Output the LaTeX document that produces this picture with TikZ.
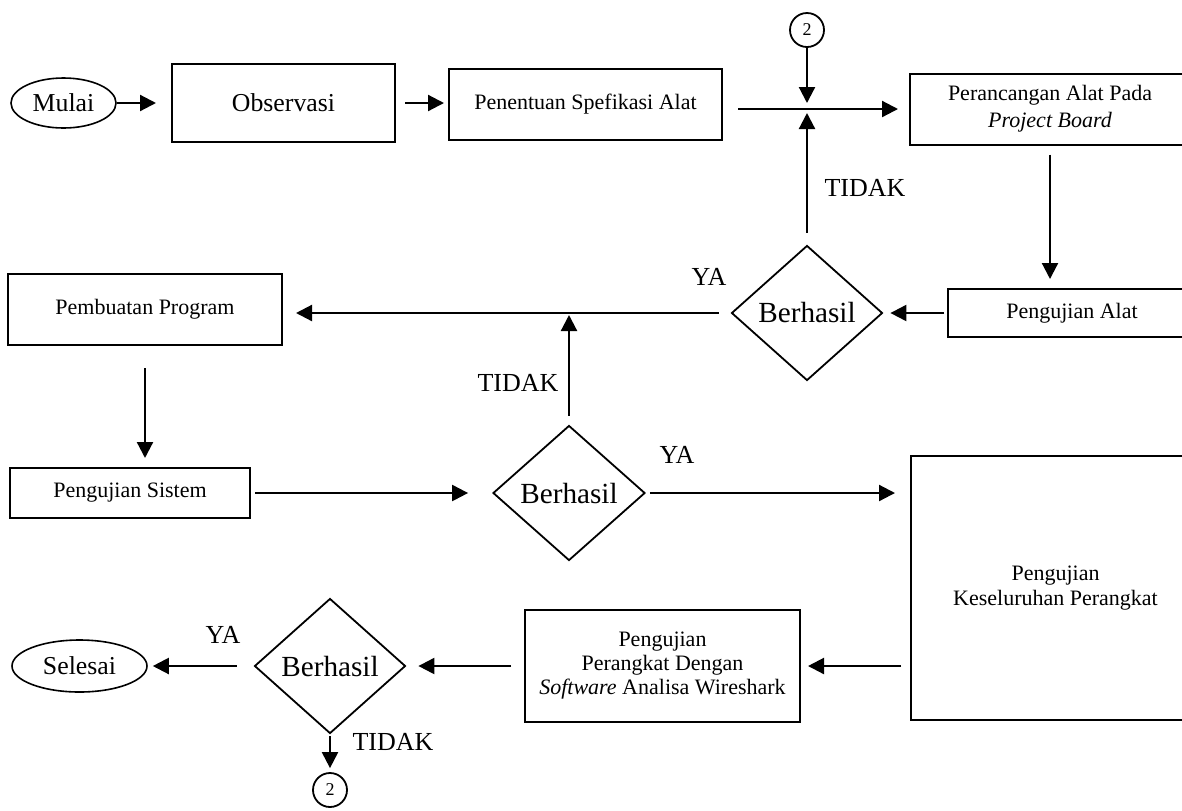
\documentclass[tikz,border=0pt]{standalone}
\usepackage{fontspec}
\setmainfont{Liberation Serif}
\usetikzlibrary{shapes,arrows.meta,positioning,calc}

\begin{document}
\begin{tikzpicture}[x=0.5pt,y=-0.5pt,
    kotak/.style={draw,line width=1pt,inner sep=0pt,align=center,font=\fontsize{11}{12.5}\selectfont},
    oval/.style={draw,ellipse,line width=0.8pt,inner sep=0pt,font=\fontsize{12.9}{14}\selectfont},
    keputusan/.style={draw,diamond,line width=0.9pt,inner sep=0pt,minimum width=75.5pt,minimum height=67.5pt,font=\fontsize{14.6}{16}\selectfont},
    sambung/.style={draw,circle,line width=0.9pt,inner sep=0pt,minimum size=17pt,font=\fontsize{9}{10}\selectfont},
    panah/.style={line width=1.1pt,-{Triangle[length=8pt,width=8pt]}},
    garis/.style={line width=1.1pt},
    ket/.style={font=\fontsize{13}{14}\selectfont}]
            \useasboundingbox (0,0) rectangle (1182,810);
            \node[oval,minimum width=52.5pt,minimum height=25pt] (mulai) at (63.5,103) {Mulai};
            \node[kotak,minimum width=111.5pt,minimum height=39pt,font=\fontsize{12.9}{14}\selectfont] (obs) at (283.5,103) {Observasi};
            \node[kotak,minimum width=136.5pt,minimum height=35.5pt] (spek) at (585.5,104.5) {Penentuan Spefikasi Alat};
            \node[sambung] (c2a) at (807,30) {2};
            \coordinate (j) at (807,109);
            \node[kotak,minimum width=140pt,minimum height=35.5pt,font=\fontsize{11}{13.5}\selectfont] (rancang) at (1050,109) {Perancangan Alat Pada\\\textit{Project Board}};
            \node[kotak,minimum width=124pt,minimum height=24pt] (ujialat) at (1072,313) {Pengujian Alat};
            \node[keputusan] (cek1) at (807,313) {Berhasil};
            \node[kotak,minimum width=137pt,minimum height=35.5pt] (program) at (145,309.5) {Pembuatan Program};
            \node[kotak,minimum width=120pt,minimum height=25pt] (sistem) at (130,493) {Pengujian Sistem};
            \node[keputusan,minimum width=76pt] (cek2) at (569,493) {Berhasil};
            \node[kotak,minimum width=144.5pt,minimum height=132pt] (seluruh) at (1055.5,588) {Pengujian\\Keseluruhan Perangkat};
            \node[kotak,minimum width=137.5pt,minimum height=56pt,font=\fontsize{11}{12}\selectfont] (wire) at (662.5,666) {Pengujian\\Perangkat Dengan\\\textit{Software} Analisa Wireshark};
            \node[keputusan] (cek3) at (330,666) {Berhasil};
            \node[oval,minimum width=67.5pt,minimum height=26pt] (selesai) at (79.5,666) {Selesai};
            \node[sambung] (c2b) at (330,790) {2};
            % baris atas
            \draw[panah,shorten >=7.5pt] (mulai) -- (obs);
            \draw[panah,shorten <=4.5pt,shorten >=2pt] (obs.east) -- (obs.east -| spek.west);
            \draw[garis,shorten <=7.5pt] (spek.east |- j) -- (j);
            \draw[panah,shorten >=5.5pt] (j) -- (rancang);
            \draw[panah,shorten >=3pt] (c2a) -- (j);
            \draw[panah,shorten <=6pt,shorten >=2pt] (cek1) -- (j);
            \node[ket] (tidak1) at (865,188) {TIDAK};
            \draw[panah,shorten <=4.5pt,shorten >=4.5pt,xshift=5pt] (rancang.south) -- (rancang.south |- ujialat.north);
            \draw[panah,shorten <=1.5pt,shorten >=3.5pt] (ujialat) -- (cek1);
            \draw[panah,shorten <=6pt,shorten >=6.5pt] (cek1) -- (cek1 -| program.east);
            \node[ket] (ya1) at (709,277) {YA};
            % baris tengah
            \draw[panah,shorten <=11pt,shorten >=4.5pt] (program) -- (program |- sistem.north);
            \draw[panah,shorten <=2pt,shorten >=12pt] (sistem) -- (cek2);
            \draw[panah,shorten <=4.5pt,shorten >=1pt] (cek2) -- (cek2 |- cek1);
            \node[ket] (tidak2) at (518,383) {TIDAK};
            \draw[panah,shorten <=2pt,shorten >=7.5pt] (cek2) -- (cek2 -| seluruh.west);
            \node[ket] (ya2) at (677,455) {YA};
            % baris bawah
            \draw[panah,shorten <=4.5pt,shorten >=3.5pt] (seluruh.west |- wire) -- (wire);
            \draw[panah,shorten <=6.5pt,shorten >=6pt] (wire) -- (cek3);
            \draw[panah,shorten <=8.5pt,shorten >=2.5pt] (cek3) -- (selesai);
            \node[ket] (ya3) at (223,635) {YA};
            \draw[panah,shorten <=1pt,shorten >=2pt] (cek3) -- (c2b);
            \node[ket] (tidak3) at (393,742) {TIDAK};
\end{tikzpicture}
\end{document}
